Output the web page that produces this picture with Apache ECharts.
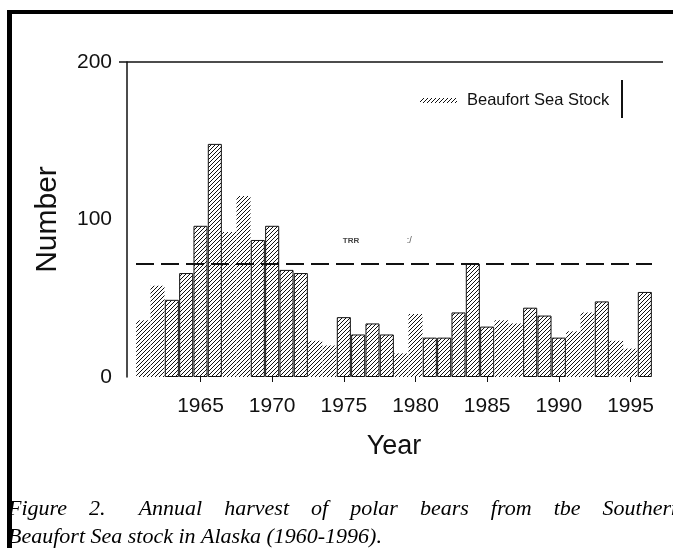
<!DOCTYPE html>
<html>
<head>
<meta charset="utf-8">
<script src="https://cdn.jsdelivr.net/npm/echarts@6/dist/echarts.min.js"></script>
<style>
  html, body { margin: 0; padding: 0; background: #fff; }
  #chart { width: 673px; height: 548px; }
</style>
</head>
<body>
<div id="chart"></div>
<script>
// Annual harvest, Southern Beaufort Sea polar bear stock (Alaska)
const years = ['1961','1962','1963','1964','1965','1966','1967','1968','1969','1970',
               '1971','1972','1973','1974','1975','1976','1977','1978','1979','1980',
               '1981','1982','1983','1984','1985','1986','1987','1988','1989','1990',
               '1991','1992','1993','1994','1995','1996'];
const harvest = [36, 58, 49, 66, 96, 148, 92, 115, 87, 96,
                 68, 66, 23, 20, 38, 27, 34, 27, 15, 40,
                 25, 25, 41, 72, 32, 36, 34, 44, 39, 25,
                 29, 41, 48, 23, 18, 54];
const referenceLevel = 72;
const yTicks = [0, 100, 200];
const labelledYears = ['1965','1970','1975','1980','1985','1990','1995'];
const seriesName = 'Beaufort Sea Stock';
const xTitle = 'Year';
const yTitle = 'Number';
const captionLines = [
  'Figure 2.  Annual harvest of polar bears from tbe Southern',
  'Beaufort Sea stock in Alaska (1960-1996).'
];

// bars that carry a black outline in the printed figure
const outlined = new Set(['1963','1964','1965','1966','1969','1970','1971','1972','1975','1976',
  '1977','1978','1981','1982','1983','1984','1985','1988','1989','1990','1993','1996']);

// diagonal hatch fill
function hatch() {
  const c = document.createElement('canvas');
  c.width = 4; c.height = 4;
  const g = c.getContext('2d');
  g.fillStyle = '#fff';
  g.fillRect(0, 0, 4, 4);
  g.fillStyle = '#111';
  [[3,0],[2,1],[1,2],[0,3]].forEach(p => g.fillRect(p[0], p[1], 1, 1));
  return c;
}
const hatchFill = { image: hatch(), repeat: 'repeat' };

const FONT = '"Liberation Sans", Arial, sans-serif';
const chart = echarts.init(document.getElementById('chart'), null, { renderer: 'canvas' });

const showLabel = (i, v) => labelledYears.indexOf(v) >= 0;

chart.setOption({
  animation: false,
  backgroundColor: '#fff',
  grid: { left: 136, right: 21, top: 62, bottom: 171 },
  legend: {
    data: [seriesName],
    left: 420, top: 92, padding: 0,
    icon: 'rect', itemWidth: 37, itemHeight: 5,
    textStyle: { fontFamily: FONT, fontSize: 16.5, color: '#111', padding: [0, 0, 0, 5] }
  },
  xAxis: {
    type: 'category',
    data: years,
    axisLine: { show: false },
    axisTick: { show: true, interval: showLabel, alignWithLabel: true, length: 5,
                lineStyle: { color: '#111', width: 1 } },
    axisLabel: { interval: showLabel, margin: 19, fontFamily: FONT, fontSize: 21, color: '#111' },
    name: xTitle, nameLocation: 'middle', nameGap: 56,
    nameTextStyle: { fontFamily: FONT, fontSize: 27, color: '#111' }
  },
  yAxis: {
    type: 'value', min: yTicks[0], max: yTicks[yTicks.length - 1], interval: 100,
    offset: 9,
    axisLine: { show: true, lineStyle: { color: '#111', width: 1.5 } },
    axisTick: { show: false },
    splitLine: { show: false },
    axisLabel: { margin: 15, fontFamily: FONT, fontSize: 21, color: '#111' },
    name: yTitle, nameLocation: 'middle', nameGap: 64,
    nameTextStyle: { fontFamily: FONT, fontSize: 30, color: '#111' }
  },
  series: [{
    name: seriesName,
    type: 'bar',
    barCategoryGap: '2%',
    itemStyle: { color: hatchFill, borderColor: '#111', borderWidth: 0 },
    data: harvest.map((v, i) => ({
      value: v,
      itemStyle: outlined.has(years[i]) ? { borderWidth: 1, borderColor: '#111' } : {}
    })),
    markLine: {
      silent: true, symbol: 'none',
      label: { show: false },
      lineStyle: { color: '#111', type: [18, 7], width: 2 },
      data: [{ yAxis: referenceLevel }]
    }
  }]
});

// frame, legend rule and caption
const yTop = chart.convertToPixel({ yAxisIndex: 0 }, yTicks[yTicks.length - 1]);
const xMid = chart.convertToPixel({ xAxisIndex: 0 }, '1978');
const graphics = [
  { type: 'line', shape: { x1: 119, y1: yTop, x2: 663, y2: yTop }, style: { stroke: '#111', lineWidth: 1.5 } },
  { type: 'line', shape: { x1: 622, y1: 80, x2: 622, y2: 118 }, style: { stroke: '#111', lineWidth: 2 } },
  { type: 'line', z: 5, shape: { x1: 9.5, y1: 10, x2: 9.5, y2: 548 }, style: { stroke: '#000', lineWidth: 5 } },
  { type: 'line', z: 5, shape: { x1: 7, y1: 12, x2: 673, y2: 12 }, style: { stroke: '#000', lineWidth: 4 } },
  { type: 'text', x: xMid - 44, y: 241, style: { text: 'TRR', font: 'bold 8px ' + FONT, fill: '#444', textVerticalAlign: 'middle' } },
  { type: 'text', x: xMid + 20, y: 241, style: { text: ':/', font: '9px ' + FONT, fill: '#555', textVerticalAlign: 'middle' } }
];

// caption: first line justified across the page (a double space counts
// as one and a half word gaps), second line set ragged
const capFont = 'italic 22px "Liberation Serif", "Times New Roman", serif';
const meas = document.createElement('canvas').getContext('2d');
meas.font = capFont;
(function () {
  const parts = captionLines[0].split(' ');
  const left = 8, right = 682;
  const words = parts.filter(p => p);
  const total = words.reduce((s, w) => s + meas.measureText(w).width, 0);
  const units = (words.length - 1) + 0.5 * (parts.length - words.length);
  const gap = (right - left - total) / units;
  let x = left;
  parts.forEach((w, i) => {
    if (!w) { x += gap * 0.5; return; }
    graphics.push({ type: 'text', x: x, y: 509, z: 1,
      style: { text: w, font: capFont, fill: '#000', textVerticalAlign: 'middle' } });
    x += meas.measureText(w).width + gap;
  });
  graphics.push({ type: 'text', x: left, y: 537, z: 1,
    style: { text: captionLines[1], font: capFont, fill: '#000', textVerticalAlign: 'middle' } });
})();
chart.setOption({ graphic: graphics });
</script>
</body>
</html>
